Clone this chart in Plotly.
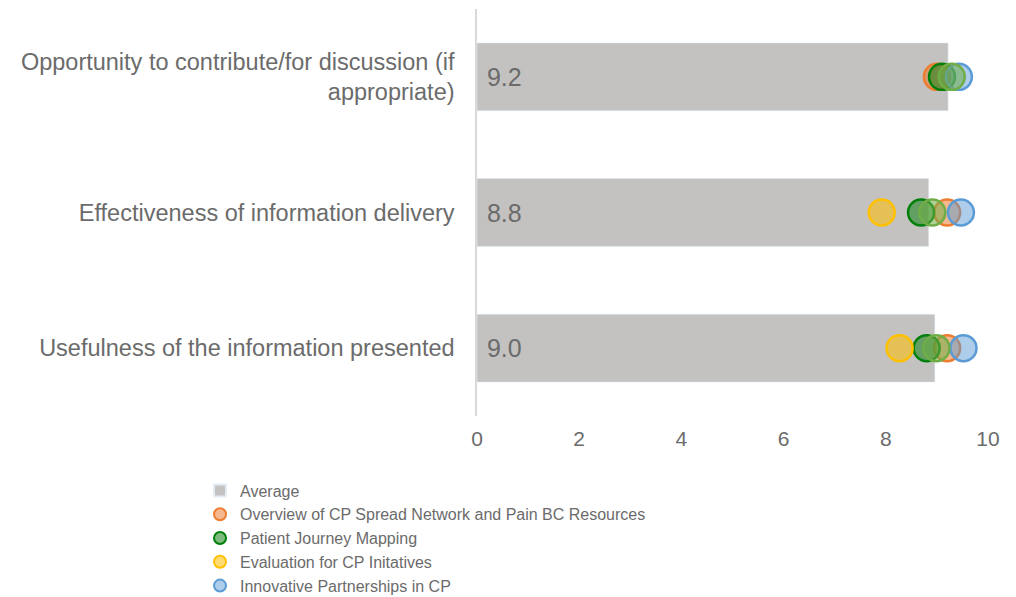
import plotly.graph_objects as go

categories = [
    "Opportunity to contribute/for discussion (if<br>appropriate)",
    "Effectiveness of information delivery",
    "Usefulness of the information presented",
]
average = [9.22, 8.84, 8.96]

overview = [9.0, 9.2, 9.2]
journey = [9.1, 8.69, 8.8]
evaluation = [None, 7.92, 8.27]
partnerships = [9.43, 9.47, 9.52]
other = [9.29, 8.91, 8.99]

series = [
    ("Overview of CP Spread Network and Pain BC Resources", overview, "#ED7D31", "rgba(237,125,49,0.55)", True),
    ("Patient Journey Mapping", journey, "#00800A", "rgba(20,130,20,0.55)", True),
    ("Evaluation for CP Initatives", evaluation, "#FFC000", "rgba(255,192,0,0.55)", True),
    ("Innovative Partnerships in CP", partnerships, "#5B9BD5", "rgba(91,155,213,0.5)", True),
    ("Other", other, "#70AD47", "rgba(112,173,71,0.55)", False),
]

fig = go.Figure()
fig.add_trace(go.Bar(
    y=categories, x=average, orientation="h", name="Average",
    marker=dict(color="#C3C2C0"), width=0.5,
    text=["\u00a0" + f"{v:.1f}" for v in average], textposition="inside",
    insidetextanchor="start",
    textfont=dict(size=25, color="#6b6b6b"),
))
for name, vals, lc, fc, show in series:
    fig.add_trace(go.Scatter(
        y=categories, x=vals, mode="markers", name=name, showlegend=show,
        marker=dict(size=26, color=fc, line=dict(color=lc, width=2.5)),
    ))

fig.update_layout(
    width=1008, height=589,
    margin=dict(l=469, r=28, t=1, b=181, autoexpand=False),
    paper_bgcolor="white", plot_bgcolor="white",
    font=dict(family="Liberation Sans, Arial, sans-serif", color="#595959", size=18),
    xaxis=dict(range=[0, 10], dtick=2, showgrid=False, zeroline=False,
               showline=False, tickfont=dict(size=21, color="#6b6b6b"), ticks="",
               ticklabelstandoff=8, automargin=False),
    yaxis=dict(autorange="reversed", showgrid=False, zeroline=False,
               showline=True, linecolor="#D9D9D9", linewidth=1.5,
               tickfont=dict(size=23.5, color="#6b6b6b"), ticks="",
               ticklabelstandoff=16, automargin=False),
    legend=dict(xref="container", yref="container", x=0.1905, y=0.2097,
                xanchor="left", yanchor="top", itemsizing="constant",
                font=dict(size=16, color="#6b6b6b"), tracegroupgap=0,
                itemwidth=30, bgcolor="rgba(0,0,0,0)"),
    showlegend=True,
)
fig.write_html("out.html")
